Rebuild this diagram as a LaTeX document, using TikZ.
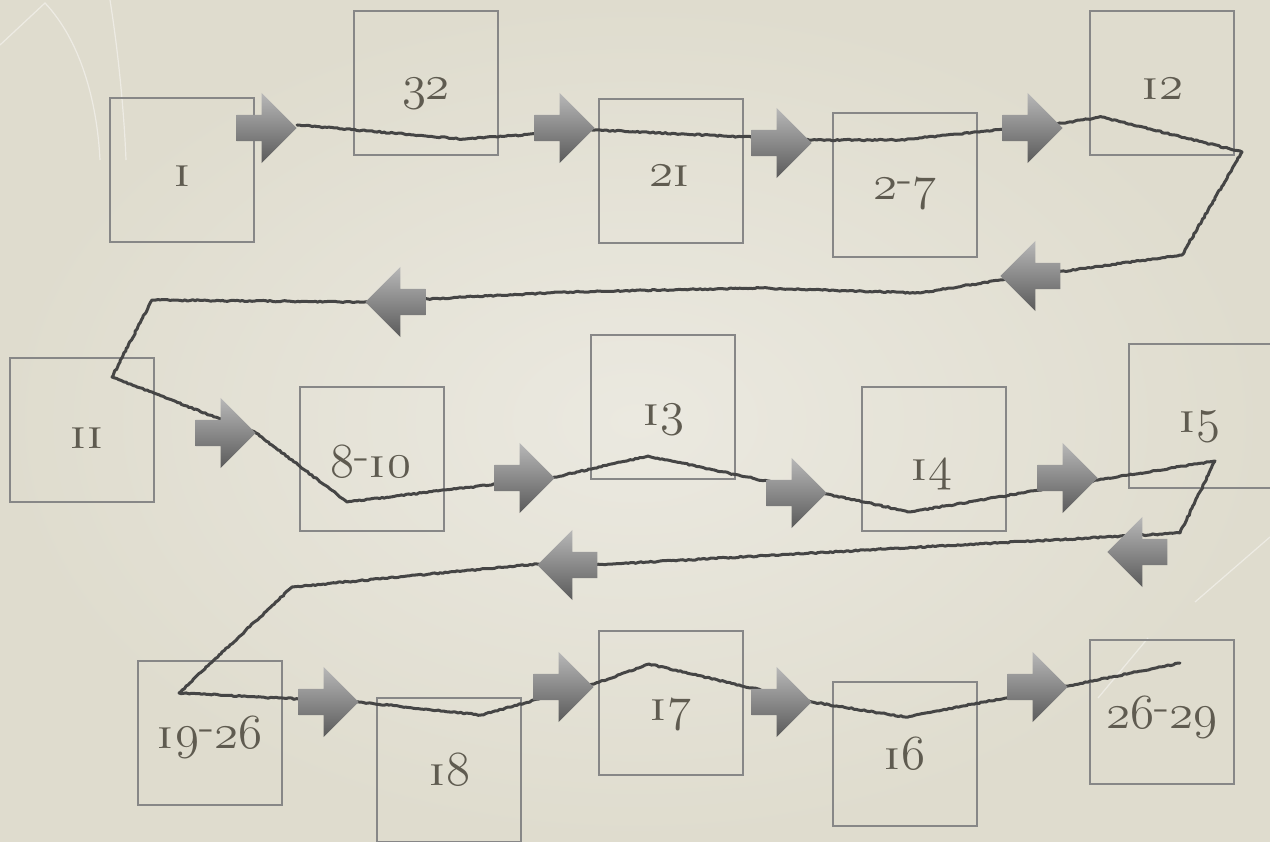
\documentclass[tikz,border=0pt]{standalone}
\usetikzlibrary{shapes.arrows,decorations.pathmorphing}

\definecolor{paper}{HTML}{DFDCCE}
\definecolor{paperlight}{HTML}{EBE9E0}
\definecolor{boxline}{HTML}{878787}
\definecolor{ink}{HTML}{5F5B50}
\definecolor{pencil}{HTML}{454545}
\definecolor{arrowlight}{HTML}{B8B8B8}
\definecolor{arrowdark}{HTML}{5A5A5A}

% old-style figures from the math italic font, set at 24.88pt and enlarged;
% the figure one is drawn as a small-capital I
\newcommand\osn[1]{{\usefont{OML}{cmm}{m}{it}#1}}
\newcommand\one{\scalebox{1.05}[0.82]{\textsc{i}}\kern.04em}
\newcommand\rdash{\raisebox{.14em}{-}}
\newcommand\lab[1]{\scalebox{1.97}{\fontsize{24.88}{26}\selectfont #1}}

\tikzset{
  stage/.style={draw=boxline, line width=2.6pt, minimum size=144pt, inner sep=0pt},
  num/.style={text=ink, anchor=base, inner sep=0pt},
  flow/.style={single arrow, single arrow head extend=22pt, inner xsep=0pt,
               inner ysep=13pt, minimum height=60pt, draw=none,
               top color=arrowlight, bottom color=arrowdark, anchor=tip},
  flowr/.style={flow, shape border rotate=0},
  flowl/.style={flow, shape border rotate=180},
  pencilline/.style={draw=pencil, line width=3pt, line join=round, line cap=round,
               decorate, decoration={random steps, segment length=2.5pt, amplitude=0.65pt}},
  faint/.style={draw=white, opacity=.45, line width=1.2pt},
}

\begin{document}
\begin{tikzpicture}[x=1pt, y=-1pt]
\pgfmathsetseed{7}
\useasboundingbox (0,0) rectangle (1270,842);
\fill[inner color=paperlight, outer color=paper] (0,0) rectangle (1270,842);

% faint paper texture strokes
\draw[faint] (0,45) -- (45,3) .. controls (80,40) and (97,100) .. (100,160);
\draw[faint] (110,0) .. controls (118,50) and (124,110) .. (126,160);
\draw[faint] (1270,537) -- (1195,602);
\draw[faint] (1148,638) -- (1098,698);

% stages
\node[stage] (b1)    at (182,170) {};
\node[stage] (b32)   at (426,83)  {};
\node[stage] (b21)   at (671,171) {};
\node[stage] (b27)   at (905,185) {};
\node[stage] (b12)   at (1162,83) {};
\node[stage] (b11)   at (82,430)  {};
\node[stage] (b810)  at (372,459) {};
\node[stage] (b13)   at (663,407) {};
\node[stage] (b14)   at (934,459) {};
\node[stage] (b15)   at (1201,416) {};
\node[stage] (b1926) at (210,733) {};
\node[stage] (b18)   at (449,770) {};
\node[stage] (b17)   at (671,703) {};
\node[stage] (b16)   at (905,754) {};
\node[stage] (b2629) at (1162,712) {};

% stage numbers
\node[num] (l1)    at (183,187)  {\lab{\one}};
\node[num] (l32)   at (426,100)  {\lab{\osn{32}}};
\node[num] (l21)   at (670,187)  {\lab{\osn{2}\one}};
\node[num] (l27)   at (905,200)  {\lab{\osn{2}\rdash\osn{7}}};
\node[num] (l12)   at (1163,100) {\lab{\one\osn{2}}};
\node[num] (l11)   at (88,448)   {\lab{\one\one}};
\node[num] (l810)  at (371,477)  {\lab{\osn{8}\rdash\one\osn{0}}};
\node[num] (l13)   at (664,425)  {\lab{\one\osn{3}}};
\node[num] (l14)   at (932,480)  {\lab{\one\osn{4}}};
\node[num] (l15)   at (1200,432) {\lab{\one\osn{5}}};
\node[num] (l1926) at (210,748)  {\lab{\one\osn{9}\rdash\osn{26}}};
\node[num] (l18)   at (450,785)  {\lab{\one\osn{8}}};
\node[num] (l17)   at (671,720)  {\lab{\one\osn{7}}};
\node[num] (l16)   at (905,769)  {\lab{\one\osn{6}}};
\node[num] (l2629) at (1162,728) {\lab{\osn{26}\rdash\osn{29}}};

% vertices of the hand-drawn route
\coordinate (v1)  at (297,125);
\coordinate (v2)  at (463,139);
\coordinate (v3)  at (595,130);
\coordinate (v4)  at (812,140);
\coordinate (v5)  at (900,140);
\coordinate (v6)  at (1063,123);
\coordinate (v7)  at (1102,117);
\coordinate (v8)  at (1242,152);
\coordinate (v9)  at (1182,255);
\coordinate (v10) at (1000,280);
\coordinate (v11) at (920,293);
\coordinate (v12) at (760,288);
\coordinate (v13) at (570,292);
\coordinate (v14) at (365,302);
\coordinate (v15) at (152,300);
\coordinate (v16) at (112,377);
\coordinate (v17) at (256,433);
\coordinate (v18) at (347,502);
\coordinate (v19) at (555,477);
\coordinate (v20) at (648,456);
\coordinate (v21) at (827,494);
\coordinate (v22) at (910,512);
\coordinate (v23) at (1098,480);
\coordinate (v24) at (1215,461);
\coordinate (v25) at (1180,533);
\coordinate (v26) at (594,565);
\coordinate (v27) at (537,564);
\coordinate (v28) at (292,587);
\coordinate (v29) at (179,693);
\coordinate (v30) at (359,702);
\coordinate (v31) at (481,715);
\coordinate (v32) at (594,684);
\coordinate (v33) at (649,664);
\coordinate (v34) at (812,702);
\coordinate (v35) at (905,717);
\coordinate (v36) at (1068,686);
\coordinate (v37) at (1180,663);

\path[pencilline] (v1) -- (v2) -- (v3) -- (v4) -- (v5) -- (v6) -- (v7) -- (v8)
  -- (v9) -- (v10) -- (v11) -- (v12) -- (v13) -- (v14) -- (v15) -- (v16) -- (v17)
  -- (v18) -- (v19) -- (v20) -- (v21) -- (v22) -- (v23) -- (v24) -- (v25) -- (v26)
  -- (v27) -- (v28) -- (v29) -- (v30) -- (v31) -- (v32) -- (v33) -- (v34) -- (v35)
  -- (v36) -- (v37);

% block arrows along the route
\node[flowr] (a1)  at (297,128)  {};
\node[flowr] (a2)  at (595,128)  {};
\node[flowr] (a3)  at (812,143)  {};
\node[flowr] (a4)  at (1063,128) {};
\node[flowl] (a5)  at (1000,276) {};
\node[flowl] (a6)  at (365,302)  {};
\node[flowr] (a7)  at (256,433)  {};
\node[flowr] (a8)  at (555,478)  {};
\node[flowr] (a9)  at (827,493)  {};
\node[flowr] (a10) at (1098,478) {};
\node[flowl] (a11) at (1107,552) {};
\node[flowl] (a12) at (537,565)  {};
\node[flowr] (a13) at (359,702)  {};
\node[flowr] (a14) at (594,687)  {};
\node[flowr] (a15) at (812,702)  {};
\node[flowr] (a16) at (1068,687) {};
\end{tikzpicture}
\end{document}
